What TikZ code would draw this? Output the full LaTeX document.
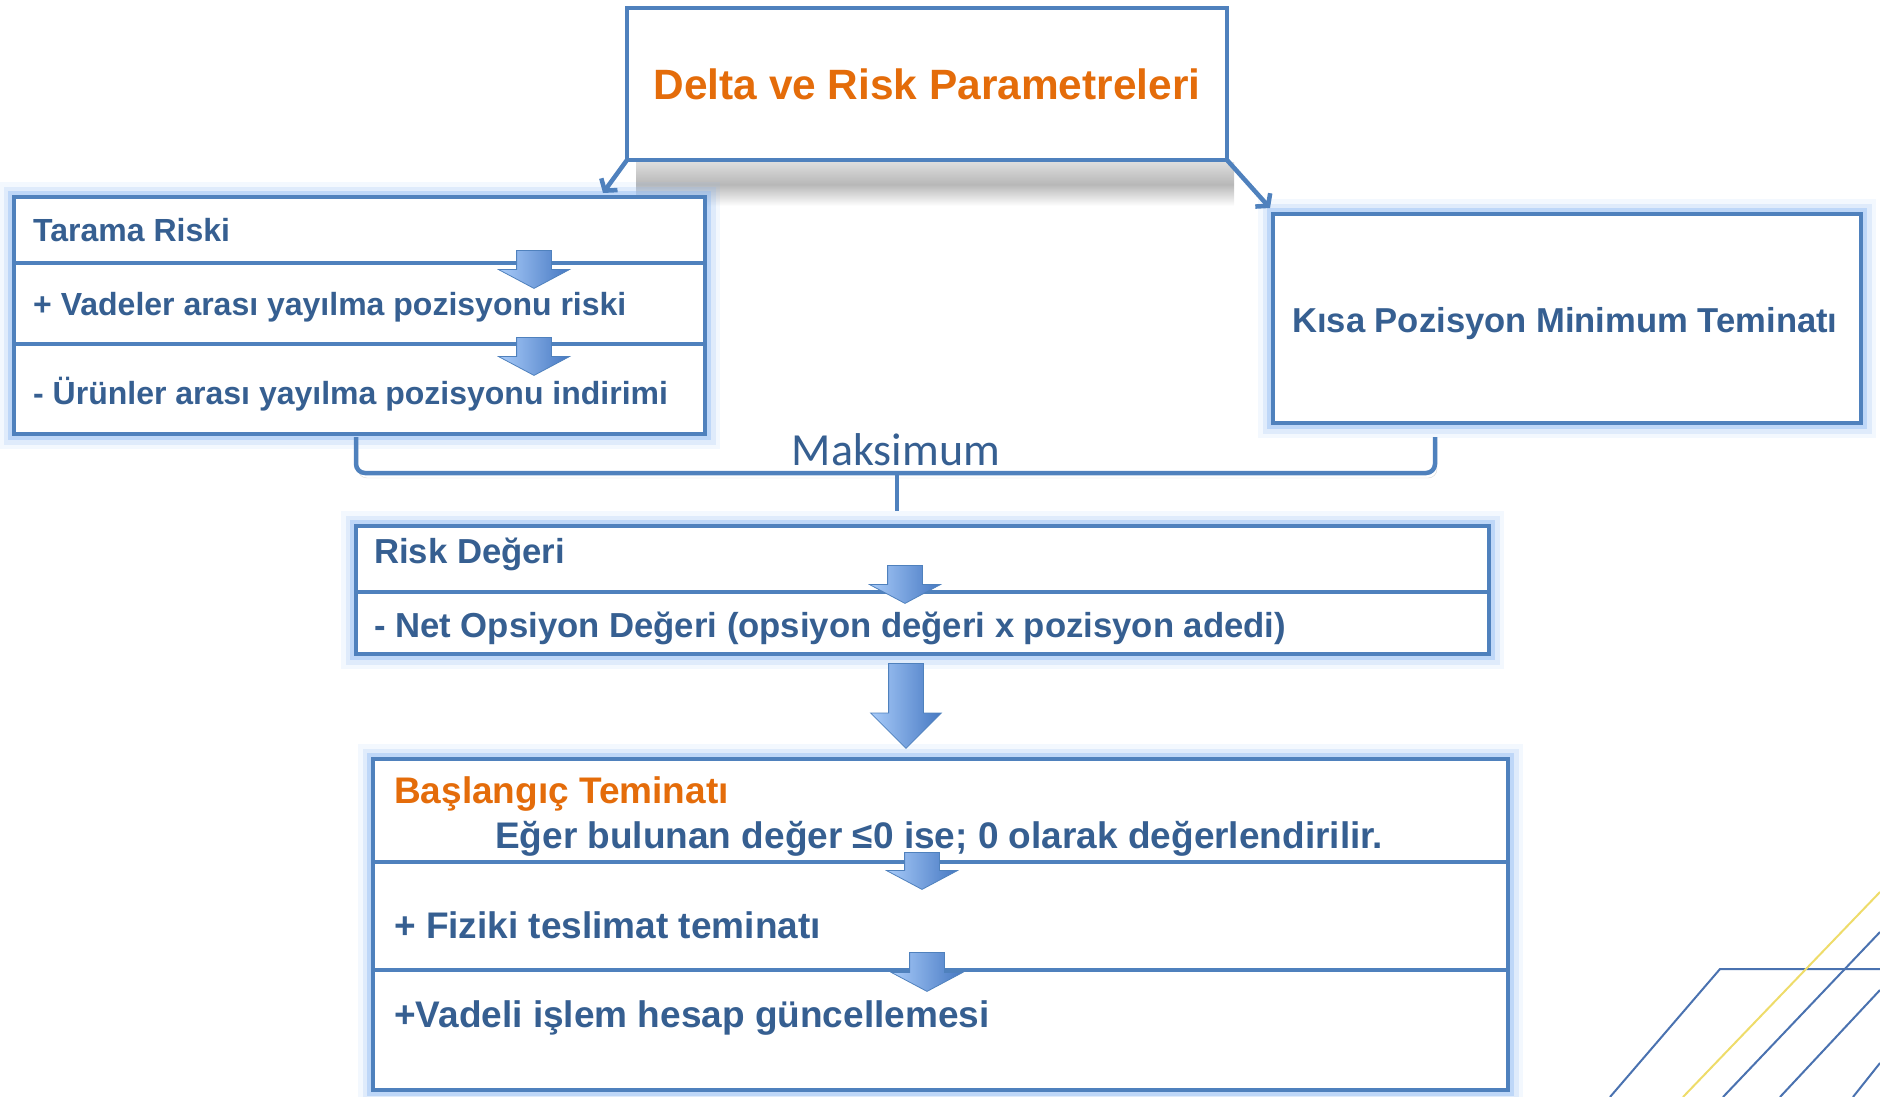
\documentclass[tikz,border=0pt]{standalone}
\usepackage{fontspec}
\setmainfont{Liberation Sans}
\newfontfamily\maksfont{Carlito}
\usepackage{xcolor}
\usepackage{tikz}
\usetikzlibrary{shapes.arrows, arrows.meta, positioning, calc}

\definecolor{boxblue}{HTML}{4F81BD}
\definecolor{txtblue}{HTML}{365F91}
\definecolor{glowblue}{HTML}{8DB9F2}
\definecolor{titleorange}{HTML}{E46C0A}
\definecolor{arrlight}{HTML}{A8CBF9}
\definecolor{arrdark}{HTML}{4678C2}
\definecolor{decoblue}{HTML}{4A72B0}
\definecolor{decoyellow}{HTML}{EEDC6A}

\begin{document}
\begin{tikzpicture}[
    x=1pt, y=-1pt,
    pbox/.style={rectangle, draw=boxblue, line width=4.5pt, fill=white, outer sep=0pt, inner sep=0pt},
    gbox/.style={pbox, preaction={draw=glowblue, line width=30pt, opacity=0.1}, preaction={draw=glowblue, line width=21pt, opacity=0.2}, preaction={draw=glowblue, line width=12pt, opacity=0.4}},
    sep/.style={draw=boxblue, line width=4.5pt},
    txt/.style={anchor=base west, inner sep=0pt, text=txtblue, font=\bfseries\fontsize{#1}{#1}\selectfont},
    blk/.style={single arrow, rotate=-90, anchor=tail, inner xsep=0pt, inner ysep=17pt, minimum height=38pt, single arrow head extend=18pt, single arrow tip angle=124, draw=boxblue, line width=0.8pt, left color=arrlight, right color=arrdark},
    arr/.style={-{Straight Barb[length=8pt, width=20pt]}, line width=4.5pt, draw=boxblue},
    brk/.style={draw=boxblue, line width=4.5pt, rounded corners=9pt}
]
\useasboundingbox (0,0) rectangle (1880,1097);

% slide decoration
\draw[decoblue, line width=2pt] (1610,1097) -- (1720,969) -- (1880,969);
\draw[decoyellow, line width=2pt] (1683,1097) -- (1880,892);
\draw[decoblue, line width=2pt] (1723,1097) -- (1880,932);
\draw[decoblue, line width=2pt] (1780,1097) -- (1880,990);
\draw[decoblue, line width=2pt] (1853,1097) -- (1880,1063);

\fill[top color=black!14, bottom color=white, middle color=black!28] (636,163) rectangle (1234,206);

\node[pbox, minimum width=600pt, minimum height=152pt, text=titleorange, font=\bfseries\fontsize{42.4}{42.4}\selectfont] (params) at (927,84) {Delta ve Risk Parametreleri};
\node[gbox, anchor=north west, minimum width=691pt, minimum height=237pt] (tarama) at (14,197) {};
\node[gbox, anchor=north west, minimum width=588pt, minimum height=209pt] (kisa) at (1273,214) {};
\node[gbox, anchor=north west, minimum width=1133pt, minimum height=128pt] (risk) at (356,526) {};
\node[gbox, anchor=north west, minimum width=1135pt, minimum height=331pt] (baslangic) at (373,759) {};

\draw[sep] (tarama.west |- 0,263) -- (tarama.east |- 0,263);
\draw[sep] (tarama.west |- 0,344) -- (tarama.east |- 0,344);
\draw[sep] (risk.west |- 0,592) -- (risk.east |- 0,592);
\draw[sep] (baslangic.west |- 0,862) -- (baslangic.east |- 0,862);
\draw[sep] (baslangic.west |- 0,970) -- (baslangic.east |- 0,970);

\node[txt=32] (tarama_h) at (33,241) {Tarama Riski};
\node[txt=32] (tarama_a) at (33,315) {+ Vadeler arası yayılma pozisyonu riski};
\node[txt=32] (tarama_b) at (33,404) {- Ürünler arası yayılma pozisyonu indirimi};
\node[txt=34.6] (kisa_t) at (1292,332) {Kısa Pozisyon Minimum Teminatı};
\node[txt=34.7] (risk_h) at (374,563) {Risk Değeri};
\node[txt=34.7] (risk_a) at (374,637) {- Net Opsiyon Değeri (opsiyon değeri x pozisyon adedi)};
\node[txt=37, text=titleorange] (basl_h) at (394,803) {Başlangıç Teminatı};
\node[txt=37] (basl_n) at (495,848) {Eğer bulunan değer ≤0 ise; 0 olarak değerlendirilir.};
\node[txt=37] (basl_a) at (394,938) {+ Fiziki teslimat teminatı};
\node[txt=37] (basl_b) at (394,1027) {+Vadeli işlem hesap güncellemesi};

\node[blk] (ar_t1) at (534,250) {};
\node[blk] (ar_t2) at (534,337) {};
\node[blk] (ar_r) at (905,565) {};
\node[blk, minimum height=37pt] (ar_b1) at (922,852) {};
\node[blk, minimum height=39pt] (ar_b2) at (927,952) {};
\node[blk, minimum height=85pt, single arrow tip angle=90] (ar_big) at (906,663) {};

\draw[arr] (params.south west) -- ($(tarama.north east)+(-102,-4)$);
\draw[arr] (params.south east) -- ($(kisa.north west)+(-3,-6)$);

\coordinate (max_l) at (356,437);
\coordinate (max_r) at (1435,437);
\coordinate (max_m) at (897,473);
\coordinate (max_b) at (897,511);
\draw[brk, preaction={draw=black!15, transform canvas={shift={(2,5)}}}] (max_l) |- (max_m) -| (max_r);
\draw[brk] (max_m) -- (max_b);
\node[anchor=base, inner sep=0pt, text=txtblue, font=\maksfont\fontsize{46}{46}\selectfont] (maks) at (896,465) {Maksimum};

\end{tikzpicture}
\end{document}
